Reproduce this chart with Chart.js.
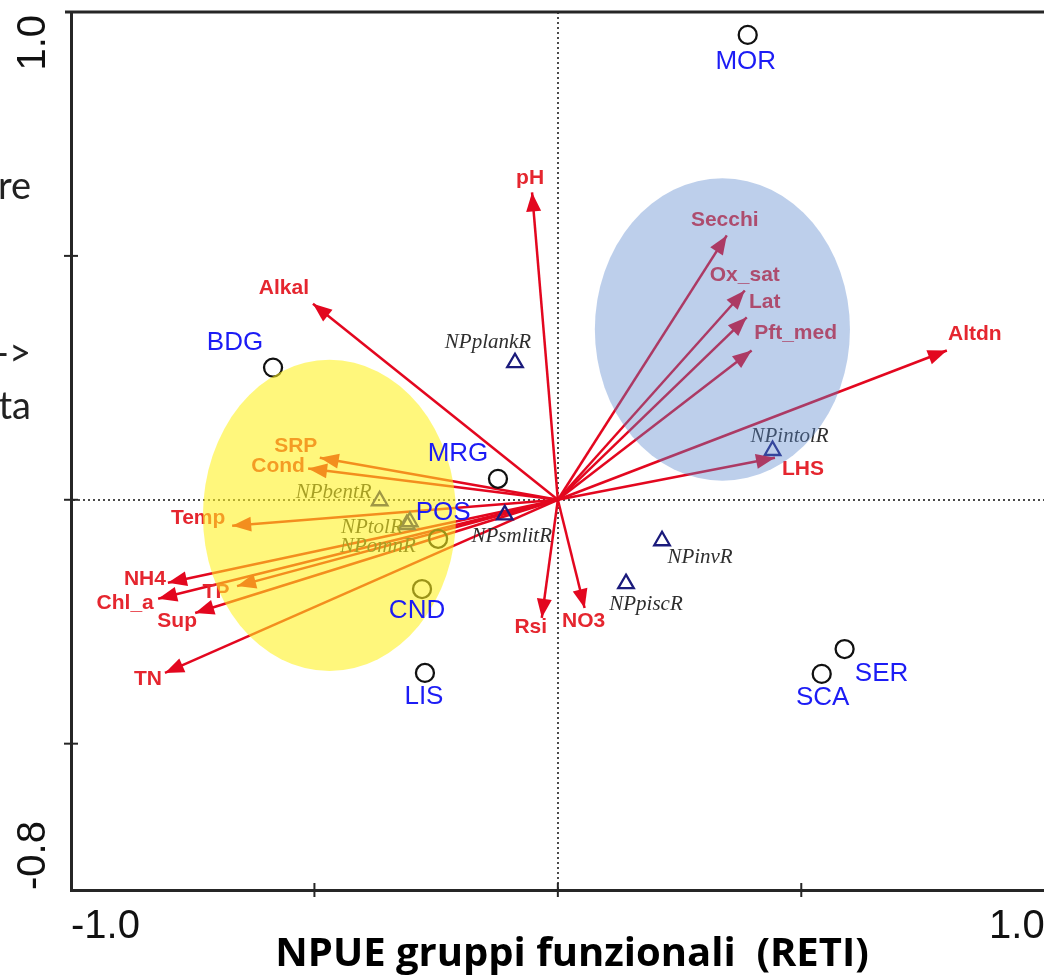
<!DOCTYPE html>
<html>
<head>
<meta charset="utf-8">
<title>NPUE gruppi funzionali (RETI)</title>
<script src="https://cdn.jsdelivr.net/npm/chart.js@4.4.1/dist/chart.umd.min.js"></script>
<style>
  html, body { margin: 0; padding: 0; background: #fff; overflow: hidden; }
  #wrap { position: relative; width: 1044px; height: 975px; overflow: hidden; }
  #biplot { position: absolute; left: 0; top: 0; }
</style>
</head>
<body>
<div id="wrap"><canvas id="biplot" width="1056" height="975"></canvas></div>
<script>
// sites (circles)
const siteNames = ["MOR", "BDG", "MRG", "POS", "CND", "LIS", "SER", "SCA"];
const siteX = [0.390, -0.585, -0.123, -0.246, -0.279, -0.273, 0.589, 0.542];
const siteY = [0.953, 0.271, 0.043, -0.080, -0.183, -0.355, -0.306, -0.357];

// functional groups (triangles)
const speciesNames = ["NPplankR", "NPbentR", "NPtolR", "NPomnR", "NPsmlitR", "NPintolR", "NPinvR", "NPpiscR"];
const speciesX = [-0.088, -0.366, -0.304, -0.310, -0.109, 0.441, 0.214, 0.140];
const speciesY = [0.281, -0.002, -0.045, -0.051, -0.031, 0.101, -0.084, -0.172];

// environmental variables (arrows from the origin)
const envNames = ["pH", "Secchi", "Ox_sat", "Lat", "Pft_med", "Altdn", "LHS", "Alkal", "SRP",
                  "Cond", "Temp", "NH4", "TP", "Chl_a", "Sup", "TN", "Rsi", "NO3"];
const envX = [-0.053, 0.347, 0.384, 0.388, 0.398, 0.799, 0.446, -0.503, -0.489,
              -0.513, -0.669, -0.801, -0.659, -0.821, -0.745, -0.807, -0.033, 0.055];
const envY = [0.630, 0.542, 0.429, 0.374, 0.306, 0.306, 0.086, 0.402, 0.086,
              0.064, -0.053, -0.170, -0.177, -0.203, -0.232, -0.355, -0.242, -0.222];

// highlighted groups (ellipses, axis units)
const groupCX = [-0.469, 0.338];
const groupCY = [-0.032, 0.349];
const groupRX = [0.260, 0.262];
const groupRY = [0.319, 0.310];
const groupFill = ["rgba(255, 242, 30, 0.58)", "rgba(90, 135, 205, 0.4)"];

// axes
const xTicks = [-1, -0.5, 0, 0.5, 1];
const yTicks = [-0.8, -0.5, 0, 0.5, 1];
const xEndLabels = ["-1.0", "1.0"];
const yEndLabels = ["-0.8", "1.0"];
const xTitle = "NPUE gruppi funzionali  (RETI)";

// label placement (pixels from the marker / arrow tip)
const envLabelOffset = {
  pH: [-2, -14], Secchi: [-2, -15], Ox_sat: [0, -15], Lat: [18, -15], Pft_med: [44, -17],
  Altdn: [28, -16], LHS: [28, 11], Alkal: [-29, -15], SRP: [-24, -12], Cond: [-30, -2],
  Temp: [-34, -7], NH4: [-23, -3], TP: [-21, 6], Chl_a: [-33, 4], Sup: [-18, 8],
  TN: [-17, 6], Rsi: [-11, 9], NO3: [-1, 13]
};
const siteLabelOffset = {
  MOR: [-2, 27], BDG: [-38, -25], MRG: [-40, -25], POS: [5, -26],
  CND: [-5, 22], LIS: [-1, 24], SER: [37, 25], SCA: [1, 24]
};
const speciesLabelOffset = {
  NPplankR: [-27, -20], NPbentR: [-46, -8], NPtolR: [-38, 6], NPomnR: [-29, 22],
  NPsmlitR: [7, 22], NPintolR: [17, -14], NPinvR: [38, 17], NPpiscR: [20, 21]
};

const RED = "#e3071f";

const arrowSets = envNames.map((name, i) => ({
  label: name,
  data: [{ x: 0, y: 0 }, { x: envX[i], y: envY[i] }],
  showLine: true,
  borderColor: RED,
  borderWidth: 2.5,
  pointRadius: 0,
  tension: 0,
  fill: false
}));

const biplotDecor = {
  id: "biplotDecor",
  afterDatasetsDraw(chart) {
    const { ctx, scales: { x, y } } = chart;
    const ox = x.getPixelForValue(0), oy = y.getPixelForValue(0);
    ctx.save();

    // arrow heads
    ctx.fillStyle = RED;
    envNames.forEach((name, i) => {
      const tx = x.getPixelForValue(envX[i]), ty = y.getPixelForValue(envY[i]);
      const a = Math.atan2(ty - oy, tx - ox);
      const L = 19, W = 7.5;
      const bx = tx - L * Math.cos(a), by = ty - L * Math.sin(a);
      ctx.beginPath();
      ctx.moveTo(tx, ty);
      ctx.lineTo(bx - W * Math.sin(a), by + W * Math.cos(a));
      ctx.lineTo(bx + W * Math.sin(a), by - W * Math.cos(a));
      ctx.closePath();
      ctx.fill();
    });

    // arrow labels
    ctx.font = "bold 21px 'Liberation Sans', Arial, sans-serif";
    ctx.textAlign = "center";
    ctx.textBaseline = "middle";
    ctx.fillStyle = "#e5262f";
    envNames.forEach((name, i) => {
      const [dx, dy] = envLabelOffset[name];
      ctx.fillText(name, x.getPixelForValue(envX[i]) + dx, y.getPixelForValue(envY[i]) + dy);
    });

    // functional group labels
    ctx.font = "italic 21px 'Liberation Serif', 'Times New Roman', serif";
    ctx.fillStyle = "#2e2e2e";
    speciesNames.forEach((name, i) => {
      const [dx, dy] = speciesLabelOffset[name];
      ctx.fillText(name, x.getPixelForValue(speciesX[i]) + dx, y.getPixelForValue(speciesY[i]) + dy);
    });

    // shaded groups laid over the arrows
    groupCX.forEach((cx, i) => {
      const px = x.getPixelForValue(cx), py = y.getPixelForValue(groupCY[i]);
      const rx = Math.abs(x.getPixelForValue(cx + groupRX[i]) - px);
      const ry = Math.abs(y.getPixelForValue(groupCY[i] + groupRY[i]) - py);
      ctx.fillStyle = groupFill[i];
      ctx.beginPath();
      ctx.ellipse(px, py, rx, ry, 0, 0, Math.PI * 2);
      ctx.fill();
    });

    // site labels
    ctx.font = "26px 'Liberation Sans', Arial, sans-serif";
    ctx.fillStyle = "#1c1cf5";
    siteNames.forEach((name, i) => {
      const [dx, dy] = siteLabelOffset[name];
      ctx.fillText(name, x.getPixelForValue(siteX[i]) + dx, y.getPixelForValue(siteY[i]) + dy);
    });
    ctx.restore();
  },
  afterDraw(chart) {
    const { ctx, chartArea: a, scales: { x, y } } = chart;
    ctx.save();
    ctx.strokeStyle = "#262626";
    ctx.lineWidth = 3;

    // top frame line
    ctx.beginPath();
    ctx.moveTo(a.left - 6, a.top);
    ctx.lineTo(a.right + 10, a.top);
    ctx.stroke();

    // inner tick marks crossing the axes
    ctx.lineWidth = 2;
    xTicks.slice(1, -1).forEach(v => {
      const px = x.getPixelForValue(v);
      ctx.beginPath();
      ctx.moveTo(px, a.bottom - 7);
      ctx.lineTo(px, a.bottom + 7);
      ctx.stroke();
    });
    yTicks.slice(1, -1).forEach(v => {
      const py = y.getPixelForValue(v);
      ctx.beginPath();
      ctx.moveTo(a.left - 7, py);
      ctx.lineTo(a.left + 7, py);
      ctx.stroke();
    });

    // rotated end labels of the vertical axis
    ctx.fillStyle = "#111";
    ctx.font = "40px 'Liberation Sans', Arial, sans-serif";
    ctx.textBaseline = "middle";
    ctx.save();
    ctx.translate(34, y.getPixelForValue(yTicks[0]));
    ctx.rotate(-Math.PI / 2);
    ctx.textAlign = "left";
    ctx.fillText(yEndLabels[0], 0, 0);
    ctx.restore();
    ctx.save();
    ctx.translate(34, y.getPixelForValue(yTicks[yTicks.length - 1]) + 3);
    ctx.rotate(-Math.PI / 2);
    ctx.textAlign = "right";
    ctx.fillText(yEndLabels[1], 0, 0);
    ctx.restore();

    // axis title
    ctx.fillStyle = "#000";
    ctx.font = "bold 40px 'Open Sans', Lato, sans-serif";
    ctx.textAlign = "center";
    ctx.textBaseline = "alphabetic";
    ctx.fillText(xTitle, 572, 966);

    // slide text running in from the left margin
    ctx.font = "38px Lato, 'Open Sans', sans-serif";
    ctx.fillStyle = "#222";
    ctx.textAlign = "right";
    ctx.fillText("re", 31, 199);
    ctx.fillText("->", 31, 366);
    ctx.fillText("ta", 31, 419);
    ctx.restore();
  }
};

const zeroLine = c => (c.tick && c.tick.value === 0 ? "#4a4a4a" : "rgba(0,0,0,0)");

new Chart(document.getElementById("biplot").getContext("2d"), {
  type: "scatter",
  data: {
    datasets: [
      {
        label: "sites",
        data: siteNames.map((n, i) => ({ x: siteX[i], y: siteY[i] })),
        pointStyle: "circle",
        pointRadius: 9,
        borderColor: "#111",
        borderWidth: 2.3,
        backgroundColor: "rgba(0,0,0,0)"
      },
      {
        label: "groups",
        data: speciesNames.map((n, i) => ({ x: speciesX[i], y: speciesY[i] })),
        pointStyle: "triangle",
        pointRadius: 9,
        borderColor: "#1b1b7c",
        borderWidth: 2.3,
        backgroundColor: "rgba(0,0,0,0)"
      },
      ...arrowSets
    ]
  },
  options: {
    responsive: false,
    animation: false,
    devicePixelRatio: 1,
    layout: { padding: { top: 12, right: 0, left: 0, bottom: 0 } },
    plugins: { legend: { display: false }, tooltip: { enabled: false } },
    scales: {
      x: {
        type: "linear",
        min: -1,
        max: 1,
        afterBuildTicks: s => { s.ticks = xTicks.map(v => ({ value: v })); },
        afterFit: s => { s.height = 85; s.paddingLeft = 0; s.paddingRight = 0; },
        grid: { color: zeroLine, lineWidth: 2, drawTicks: false },
        border: { color: "#262626", width: 3, dash: [2, 3] },
        ticks: {
          align: "inner",
          autoSkip: false,
          maxRotation: 0,
          padding: 13,
          color: "#111",
          font: { family: "'Liberation Sans', Arial, sans-serif", size: 40 },
          callback: v => (v === -1 ? xEndLabels[0] : v === 1 ? xEndLabels[1] : "")
        }
      },
      y: {
        type: "linear",
        min: -0.8,
        max: 1,
        afterBuildTicks: s => { s.ticks = yTicks.map(v => ({ value: v })); },
        afterFit: s => { s.width = 71; s.paddingTop = 0; s.paddingBottom = 0; },
        grid: { color: zeroLine, lineWidth: 2, drawTicks: false },
        border: { color: "#262626", width: 3, dash: [2, 3] },
        ticks: { display: false }
      }
    }
  },
  plugins: [biplotDecor]
});
</script>
</body>
</html>
